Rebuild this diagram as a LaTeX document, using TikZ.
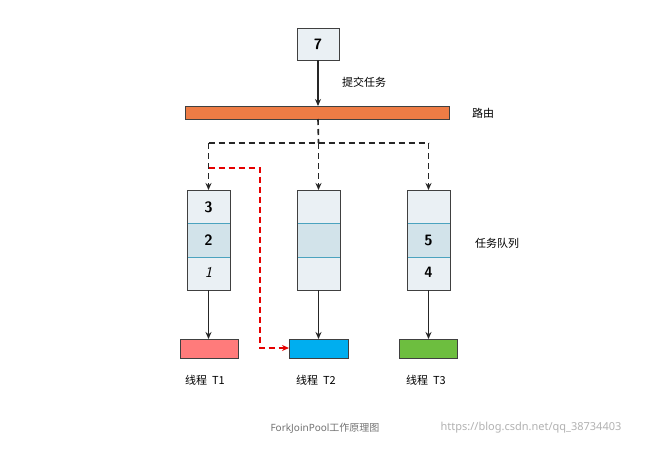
\documentclass[tikz,border=0pt]{standalone}
\usepackage{fontspec}
\setmainfont{Noto Sans}
\newfontfamily\cjk{Noto Sans CJK SC}
\usetikzlibrary{arrows.meta}
\definecolor{qlight}{HTML}{EAF0F4}
\definecolor{qmid}{HTML}{D2E3EA}
\definecolor{qline}{HTML}{4BA3BF}
\definecolor{barc}{HTML}{EE7C45}
\definecolor{t1c}{HTML}{FF7B7B}
\definecolor{t2c}{HTML}{00AEEF}
\definecolor{t3c}{HTML}{6DBE3F}
\tikzset{
  box/.style={draw=black!75,line width=1pt},
  arr/.style={-{Stealth[length=7pt,width=6pt]},line width=1.6pt,black!85},
  darr/.style={arr,dash pattern=on 6pt off 4pt},
  rarr/.style={-{Stealth[length=7pt,width=6pt]},line width=1.6pt,red!90!black,dash pattern=on 6pt off 4pt},
  lbl/.style={font=\cjk\fontsize{11}{13}\selectfont},
  num/.style={font=\sffamily\bfseries\fontsize{15}{17}\selectfont}
}
\begin{document}
\begin{tikzpicture}[x=1pt,y=-1pt]
\useasboundingbox (0,0) rectangle (670,448);
\fill[white] (0,0) rectangle (670,448);
\draw[box,fill=qlight] (297,28) rectangle (339,60);
\node[num] (seven) at (318,44) {7};
\coordinate (sevb) at (318,60);
\draw[box,fill=barc] (185,106) rectangle (449,119);
\coordinate (bart) at (318,106);
\coordinate (barb) at (318,119);
\draw[arr] (sevb) -- (bart);
\node[lbl] (submit) at (364,82) {提交任务};
\node[lbl] (route) at (483,113) {路由};
\foreach \n/\x in {q1/187,q2/297,q3/407}{
  \fill[qlight] (\x,190) rectangle ++(43,100);
  \fill[qmid] (\x,223) rectangle ++(43,34);
  \draw[qline,line width=0.8pt] (\x,223) -- ++(43,0) (\x,257) -- ++(43,0);
  \draw[box] (\x,190) rectangle ++(43,100);
  \coordinate (\n t) at (\x+21.5,190);
  \coordinate (\n b) at (\x+21.5,290);
}
\node[num] (n3) at (208.5,207) {3};
\node[num] (n2) at (208.5,240) {2};
\node[num,font=\sffamily\itshape\fontsize{15}{17}\selectfont] (n1) at (208.5,272) {1};
\node[num] (n5) at (428.5,240) {5};
\node[num] (n4) at (428.5,272) {4};
\node[lbl] (queue) at (497,243) {任务队列};
\coordinate (j) at (318.5,143);
\coordinate (jl) at (208.5,143);
\coordinate (jr) at (428.5,143);
\draw[line width=1.6pt,black!85,dash pattern=on 6pt off 4pt] (barb) -- (j);
\draw[line width=1.6pt,black!85,dash pattern=on 6pt off 4pt] (jl) -- (jr);
\draw[darr] (jl) -- (q1t);
\draw[darr] (j) -- (q2t);
\draw[darr] (jr) -- (q3t);
\draw[box,fill=t1c] (180,339) rectangle (238,358);
\draw[box,fill=t2c] (289,339) rectangle (348,358);
\draw[box,fill=t3c] (399,339) rectangle (457,358);
\coordinate (t1) at (208.5,339);
\coordinate (t2) at (318.5,339);
\coordinate (t3) at (428.5,339);
\coordinate (t2l) at (289,348);
\draw[arr] (q1b) -- (t1);
\draw[arr] (q2b) -- (t2);
\draw[arr] (q3b) -- (t3);
\coordinate (rs) at (208.5,168);
\draw[rarr] (rs) -- (260,168) -- (260,348) -- (t2l);
\node[lbl] (l1) at (205,380) {线程\ \ T1};
\node[lbl] (l2) at (316,380) {线程\ \ T2};
\node[lbl] (l3) at (426,380) {线程\ \ T3};
\node[font=\fontsize{10}{12}\selectfont,text=black!55] (cap) at (325,428) {ForkJoinPool{\cjk 工作原理图}};
\node[font=\fontsize{11}{13}\selectfont,text=black!30] (wm) at (531,428) {https://blog.csdn.net/qq\_38734403};
\end{tikzpicture}
\end{document}
